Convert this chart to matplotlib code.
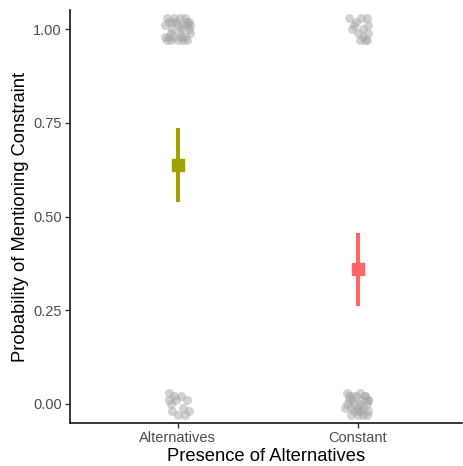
import matplotlib
matplotlib.use('Agg')
import matplotlib.pyplot as plt

plt.rcParams['font.family'] = ['Liberation Sans', 'DejaVu Sans']

categories = ['Alternatives', 'Constant']
colors = ['#A0A000', '#FF6666']

# model estimates and intervals
means = [0.637, 0.360]
lower = [0.539, 0.261]
upper = [0.736, 0.456]

# jittered raw responses (offset from category, response value)
alt_top_dx = [-0.06, -0.03, 0.01, 0.05, 0.07, -0.07, -0.02, 0.03, 0.06, -0.05, 0.00, 0.04, -0.04, 0.02, -0.01,
              0.07, -0.06, 0.05, -0.03, 0.01, 0.06, -0.07, 0.03, -0.02, 0.04, -0.05, 0.00, 0.02, -0.04, 0.05]
alt_top_y = [1.03, 1.02, 1.03, 1.02, 0.99, 1.01, 0.98, 0.97, 1.00, 0.98, 1.01, 1.03, 0.99, 0.98, 1.02,
             1.01, 0.97, 0.97, 1.00, 0.99, 1.02, 0.98, 1.01, 1.03, 0.98, 1.02, 0.97, 1.00, 0.97, 1.01]
alt_bot_dx = [-0.05, -0.02, 0.02, 0.05, -0.04, -0.01, 0.03, 0.06, -0.03, 0.00, 0.04, -0.05]
alt_bot_y = [0.03, 0.02, 0.02, 0.01, 0.00, 0.01, -0.01, -0.02, -0.02, -0.03, -0.03, 0.01]
con_top_dx = [-0.05, -0.02, 0.02, 0.05, 0.06, 0.00, 0.03, -0.03, 0.04, 0.01, 0.06, -0.01, 0.03, 0.05]
con_top_y = [1.03, 1.01, 1.03, 1.03, 1.01, 0.99, 0.98, 1.00, 0.97, 0.97, 0.99, 1.02, 1.00, 0.97]
con_bot_dx = [-0.06, -0.03, 0.01, 0.04, 0.06, -0.05, -0.02, 0.02, 0.05, -0.07, -0.04, 0.00, 0.03, 0.06,
              -0.06, -0.01, 0.02, 0.05, -0.04, 0.00, 0.04, -0.05, -0.02, 0.01, 0.03, -0.03, 0.06, 0.00]
con_bot_y = [0.03, 0.02, 0.03, 0.02, 0.01, 0.01, 0.00, 0.01, 0.00, -0.01, -0.01, -0.02, -0.01, -0.02,
             0.00, 0.02, -0.02, -0.03, -0.03, -0.03, 0.02, 0.02, -0.02, 0.00, -0.03, 0.01, 0.01, -0.01]

fig = plt.figure(figsize=(4.63, 4.66), dpi=100)
ax = fig.add_axes([70/463, 43/466, 392/463, 413/466])

jit = [(1, alt_top_dx, alt_top_y), (1, alt_bot_dx, alt_bot_y),
       (2, con_top_dx, con_top_y), (2, con_bot_dx, con_bot_y)]
for pos, dx, yy in jit:
    ax.scatter([pos + d for d in dx], yy, s=42, color='#A6A6A6', alpha=0.5, linewidths=0, zorder=2)

for i in range(len(categories)):
    ax.plot([i + 1, i + 1], [lower[i], upper[i]], color=colors[i], lw=2.9, solid_capstyle='butt', zorder=3)
    ax.plot(i + 1, means[i], marker='s', ms=8.5, color=colors[i], mec=colors[i], zorder=4)

ax.set_xlim(0.4, 2.58)
ax.set_ylim(-0.0507, 1.0507)
ax.set_xticks([1, 2])
ax.set_xticklabels(categories)
ax.set_yticks([0, 0.25, 0.5, 0.75, 1.0])
ax.set_yticklabels(['0.00', '0.25', '0.50', '0.75', '1.00'])
ax.tick_params(colors='#333333', labelcolor='#4D4D4D', labelsize=10.5, length=3.5, width=1.0, pad=2.5)

for s in ['top', 'right']:
    ax.spines[s].set_visible(False)
for s in ['left', 'bottom']:
    ax.spines[s].set_linewidth(1.1)
    ax.spines[s].set_color('black')

ax.set_xlabel('Presence of Alternatives', fontsize=13.2, labelpad=2)
ax.set_ylabel('Probability of Mentioning Constraint', fontsize=13.2, labelpad=3)

plt.savefig('out.png', dpi=100)
